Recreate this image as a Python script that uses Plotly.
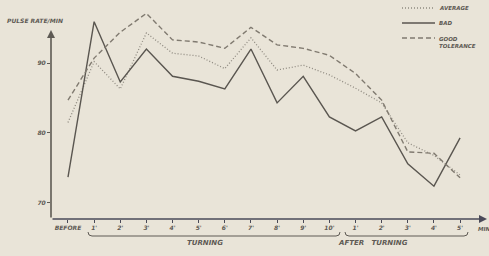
import plotly.graph_objects as go

categories = ["BEFORE", "1'", "2'", "3'", "4'", "5'", "6'", "7'", "8'", "9'", "10'",
              "1'", "2'", "3'", "4'", "5'"]
average = [81.5, 90.2, 86.3, 94.3, 91.4, 91.0, 89.2, 93.6, 89.0, 89.7, 88.3, 86.4, 84.3, 78.6, 76.8, 74.0]
bad = [73.7, 95.9, 87.3, 92.0, 88.1, 87.4, 86.3, 92.0, 84.3, 88.1, 82.3, 80.3, 82.3, 75.6, 72.4, 79.3]
good_tolerance = [84.7, 90.7, 94.4, 97.1, 93.3, 93.0, 92.1, 95.1, 92.6, 92.1, 91.1, 88.5, 84.7, 77.3, 77.1, 73.6]
y_ticks = [70, 80, 90]
series_names = ["AVERAGE", "BAD", "GOOD<br>TOLERANCE"]

BG = "#e9e4d8"
INK = "#5e5a54"
FONT = "DejaVu Sans"

# plot-area geometry (pixels)
L, R, T, B = 51, 487, 5, 219
W, H = 489, 256


def px(x):
    return (x - L) / (R - L)


def py(y):
    return (B - y) / (B - T)


xs = list(range(len(categories)))
x0 = -0.65
x1 = 16.03
y0 = 67.71
y1 = 98.29

styles = [
    dict(color="#8f8a80", width=1.3, dash="1px,2px"),
    dict(color="#5a5650", width=1.4),
    dict(color="#807a70", width=1.4, dash="5px,3px"),
]

fig = go.Figure()
for name, vals, st in zip(series_names, [average, bad, good_tolerance], styles):
    fig.add_trace(go.Scatter(x=xs, y=vals, mode="lines", name=name, line=st,
                             showlegend=False))

tickfont = dict(family=FONT, size=6, color=INK, style="italic", weight="bold")
smallfont = dict(family=FONT, size=5.5, color=INK, style="italic", weight="bold")

fig.update_layout(
    width=W, height=H,
    margin=dict(l=L, r=W - R, t=T, b=H - B),
    paper_bgcolor=BG, plot_bgcolor=BG,
    showlegend=False,
    xaxis=dict(range=[x0, x1], tickvals=xs, ticktext=categories, showgrid=False,
               zeroline=False, showline=False, ticks="outside", ticklen=3,
               tickcolor="#4a4a58", tickwidth=1, tickfont=tickfont),
    yaxis=dict(range=[y0, y1], tickvals=y_ticks, ticktext=[str(v) for v in y_ticks],
               showgrid=False, zeroline=False, showline=False, ticks="outside",
               ticklen=3, tickcolor=INK, tickwidth=1, tickfont=tickfont),
)

# axes with arrows
fig.add_annotation(x=x1, y=y0, ax=x0, ay=y0, xref="x", yref="y", axref="x", ayref="y",
                   text="", showarrow=True, arrowhead=2, arrowsize=1, arrowwidth=1.6,
                   arrowcolor="#4a4a58")
fig.add_annotation(x=x0, y=94.71, ax=x0, ay=y0, xref="x", yref="y", axref="x", ayref="y",
                   text="", showarrow=True, arrowhead=2, arrowsize=1, arrowwidth=1.6,
                   arrowcolor=INK)

# hand-drawn style legend (top right)
legend_rows = [8, 23, 38]
for name, st, yr in zip(series_names, styles, legend_rows):
    fig.add_shape(type="line", xref="paper", yref="paper", x0=px(402), x1=px(435),
                  y0=py(yr), y1=py(yr), line=st)
    fig.add_annotation(x=px(437), y=py(yr), xref="paper", yref="paper", text=name,
                       showarrow=False, xanchor="left",
                       yanchor="middle" if "<br>" not in name else "top",
                       yshift=4 if "<br>" in name else 0,
                       align="left", font=smallfont)


# brackets below the axis
def bracket(xa, xb, yb):
    return ("M {a},{t} Q {a},{b} {a2},{b} L {b2},{b} Q {bb},{b} {bb},{t}".format(
        a=px(xa), t=py(yb - 4), b=py(yb), a2=px(xa + 4), b2=px(xb - 4), bb=px(xb)))


fig.add_shape(type="path", xref="paper", yref="paper", path=bracket(88, 340, 236),
              line=dict(color=INK, width=1))
fig.add_shape(type="path", xref="paper", yref="paper", path=bracket(345, 468, 236),
              line=dict(color=INK, width=1))

labfont = dict(family=FONT, size=7, color=INK, style="italic", weight="bold")
fig.add_annotation(x=px(205), y=py(249), xref="paper", yref="paper", text="TURNING",
                   showarrow=False, font=labfont)
fig.add_annotation(x=px(410), y=py(249), xref="paper", yref="paper", text="AFTER   TURNING",
                   showarrow=False, font=labfont)
fig.add_annotation(x=px(476), y=py(229), xref="paper", yref="paper", text="MIN",
                   showarrow=False, xanchor="left", yanchor="middle", font=smallfont)
fig.add_annotation(x=px(5), y=py(15), xref="paper", yref="paper", text="PULSE RATE/MIN",
                   showarrow=False, xanchor="left", font=tickfont)

fig.write_html("out.html",
               config={"displayModeBar": False},
               post_script="document.body.style.margin='0';"
                           "document.body.style.overflow='hidden';")
